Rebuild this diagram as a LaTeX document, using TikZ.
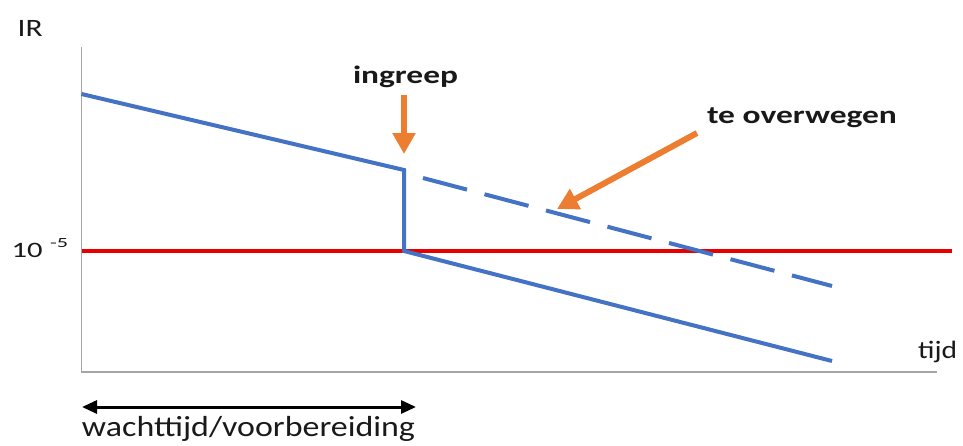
\documentclass[tikz,border=0pt]{standalone}
\usepackage{fontspec}
\setmainfont{Carlito}
\usetikzlibrary{arrows.meta}
\definecolor{ablue}{RGB}{68,114,196}
\definecolor{aorange}{RGB}{237,125,49}
\definecolor{ared}{RGB}{232,0,0}
\definecolor{agray}{RGB}{165,165,165}
\definecolor{atext}{RGB}{25,25,25}
\tikzset{
  axisline/.style={draw=agray, line width=1.5pt},
  refline/.style={draw=ared, line width=4pt},
  curve/.style={draw=ablue, line width=4pt, line join=miter},
  dashcurve/.style={draw=ablue, line width=4pt, dash pattern=on 45.5pt off 18.1pt},
  orangearrow/.style={draw=aorange, line width=6pt, -{Triangle[length=21pt,width=22pt]}, aorange},
  spanarrow/.style={draw=black, line width=3pt, {Triangle[length=15pt,width=13pt]}-{Triangle[length=15pt,width=13pt]}},
  lbl/.style={inner sep=0pt, text=atext}
}
\begin{document}
\begin{tikzpicture}[x=1pt,y=-1pt]
\useasboundingbox (0,0) rectangle (963,445);
% coordinates
\coordinate (ytop) at (81.5,47);
\coordinate (orig) at (81.5,372);
\coordinate (xend) at (937,372);
\coordinate (r0) at (81.5,251);
\coordinate (r1) at (952,251);
\coordinate (b0) at (81.5,94);
\coordinate (b1) at (404,170);
\coordinate (b2) at (404,251);
\coordinate (b3) at (832,361);
\coordinate (d0) at (423,178);
\coordinate (d1) at (832,286);
\coordinate (ia0) at (404,95);
\coordinate (ia1) at (404,154);
\coordinate (ta0) at (697,133);
\coordinate (ta1) at (557,209);
\coordinate (w0) at (82,407);
\coordinate (w1) at (416,407);
% axes
\draw[axisline] (ytop) -- (orig) -- (xend);
% reference level
\draw[refline] (r0) -- (r1);
% curves
\draw[curve] (b0) -- (b1) -- (b2) -- (b3);
\draw[dashcurve] (d0) -- (d1);
% arrows
\draw[orangearrow] (ia0) -- (ia1);
\draw[orangearrow] (ta0) -- (ta1);
\draw[spanarrow] (w0) -- (w1);
% labels
\node[lbl, anchor=base west] (ir) at (17.5,36) {\fontsize{25}{25}\selectfont\resizebox{25pt}{\height}{IR}};
\node[lbl, anchor=base west] (ten) at (11.5,257) {\fontsize{22}{22}\selectfont\resizebox{31pt}{\height}{10}};
\node[lbl, anchor=base west] (exp) at (50,247) {\fontsize{14}{14}\selectfont\resizebox{18pt}{\height}{-5}};
\node[lbl, anchor=base] (ingreep) at (405.5,83) {\fontsize{25}{25}\selectfont\bfseries\resizebox{105pt}{\height}{ingreep}};
\node[lbl, anchor=base] (overw) at (802,123) {\fontsize{25}{25}\selectfont\bfseries\resizebox{190pt}{\height}{te overwegen}};
\node[lbl, anchor=base west] (tijd) at (918,358) {\fontsize{25}{25}\selectfont\resizebox{39pt}{\height}{tijd}};
\node[lbl, anchor=base] (wacht) at (248.5,436) {\fontsize{29}{29}\selectfont\resizebox{333pt}{\height}{wachttijd/voorbereiding}};
\end{tikzpicture}
\end{document}
